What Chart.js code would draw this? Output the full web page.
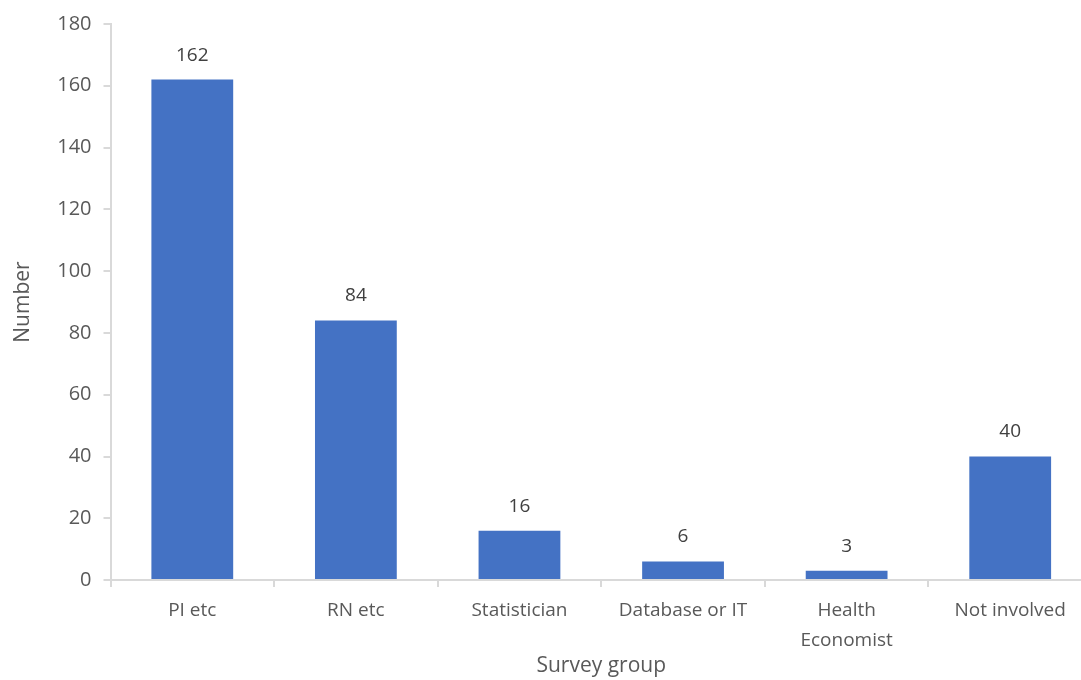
<!DOCTYPE html>
<html>
<head>
<meta charset="utf-8">
<script src="https://cdn.jsdelivr.net/npm/chart.js@4"></script>
<style>
  html, body { margin: 0; padding: 0; background: #fff; overflow: hidden; }
  #wrap { width: 1092px; height: 680px; }
</style>
</head>
<body>
<div id="wrap"><canvas id="chart"></canvas></div>
<script>
// Survey groups and counts
const groups = ['PI etc', 'RN etc', 'Statistician', 'Database or IT', ['Health', 'Economist'], 'Not involved'];
const counts = [162, 84, 16, 6, 3, 40];
const yTicks = [0, 20, 40, 60, 80, 100, 120, 140, 160, 180];

const textColor = '#595959';
const axisColor = '#d9d9d9';
const fontFamily = 'Open Sans, sans-serif';

// draw value above each bar
const valueLabels = {
  id: 'valueLabels',
  afterDatasetsDraw(chart) {
    const ctx = chart.ctx;
    const meta = chart.getDatasetMeta(0);
    ctx.save();
    ctx.fillStyle = '#404040';
    ctx.font = '19px ' + fontFamily;
    ctx.textAlign = 'center';
    ctx.textBaseline = 'bottom';
    meta.data.forEach((bar, i) => {
      ctx.fillText(counts[i], bar.x, bar.y - 15);
    });
    ctx.restore();
  }
};

new Chart(document.getElementById('chart'), {
  type: 'bar',
  data: {
    labels: groups,
    datasets: [{ data: counts, backgroundColor: '#4472c4', categoryPercentage: 1, barPercentage: 0.5 }]
  },
  options: {
    responsive: true,
    maintainAspectRatio: false,
    animation: false,
    layout: { padding: { top: 10, left: 6, right: 0, bottom: 0 } },
    plugins: { legend: { display: false }, tooltip: { enabled: false } },
    scales: {
      x: {
        offset: true,
        grid: { offset: true, drawOnChartArea: false, tickLength: 7, color: axisColor, lineWidth: 2 },
        border: { color: axisColor, width: 2 },
        ticks: { color: textColor, font: { family: fontFamily, size: 19, lineHeight: 1.55 }, maxRotation: 0, padding: 9 },
        title: { display: true, text: 'Survey group', color: textColor, font: { family: fontFamily, size: 21, lineHeight: 1.0 }, padding: { top: -8, bottom: 3 } }
      },
      y: {
        min: 0, max: 180,
        afterBuildTicks: axis => { axis.ticks = yTicks.map(v => ({ value: v })); },
        grid: { drawOnChartArea: false, tickLength: 7, color: axisColor, lineWidth: 2 },
        border: { color: axisColor, width: 2 },
        ticks: { color: textColor, font: { family: fontFamily, size: 20 }, padding: 12 },
        title: { display: true, text: 'Number', color: textColor, font: { family: fontFamily, size: 21 }, padding: { bottom: 10 } }
      }
    }
  },
  plugins: [valueLabels]
});
</script>
</body>
</html>
